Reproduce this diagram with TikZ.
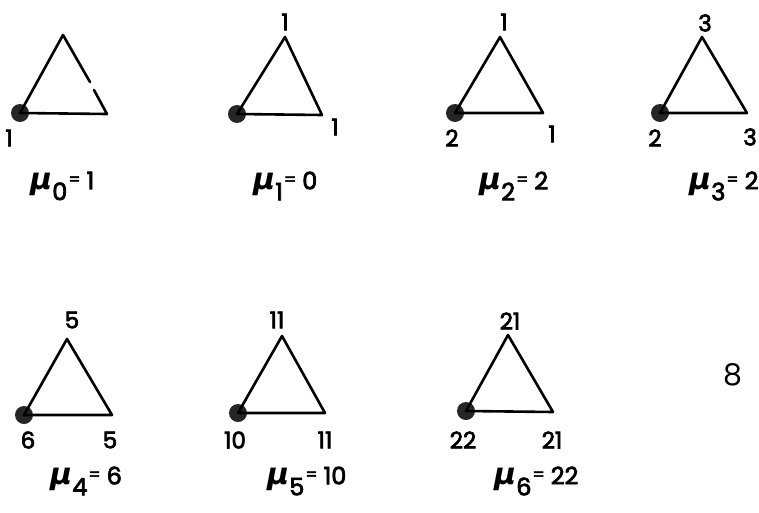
\documentclass[tikz,border=0pt]{standalone}
\usepackage{fontspec}
\setmainfont{Poppins}
\newfontfamily\numfont{Poppins}[FakeBold=3]
\newfontfamily\mufont{DejaVu Sans}
\begin{document}
\begin{tikzpicture}[x=1pt,y=-1pt,
  edge/.style={line width=2.6pt,line cap=round,line join=round},
  vdot/.style={circle,fill=black!85,inner sep=0pt,minimum size=18pt},
  num/.style={font=\numfont\fontsize{23}{23}\selectfont,inner sep=0pt},
  mulab/.style={font=\numfont\fontsize{24}{24}\selectfont,inner sep=0pt,anchor=west}]
\newcommand{\Mu}[2]{{\mufont\bfseries\itshape\fontsize{30}{30}\selectfont μ}\raisebox{-11pt}{#1}\hspace{1pt}\raisebox{4pt}{\fontsize{17}{17}\selectfont=}\hspace{6pt}#2}
\useasboundingbox (0,0) rectangle (759,513);
\fill[white] (0,0) rectangle (759,513);

% ---- triangle 0
\coordinate (a0) at (63,35);
\coordinate (c0) at (107,114);
\coordinate (g0a) at (90,82);
\coordinate (g0b) at (94,90);
\node[vdot] (b0) at (20,113) {};
\draw[edge] (b0.center) -- (a0) -- (g0a);
\draw[edge] (g0b) -- (c0) -- (b0.center);
\node[num] (l0b) at (9,138) {1};
\node[mulab] (m0) at (30,186) {\Mu{0}{1}};

% ---- triangle 1
\coordinate (a1) at (285,37);
\coordinate (c1) at (322,115);
\node[vdot] (b1) at (237,114) {};
\draw[edge] (b1.center) -- (a1) -- (c1) -- (b1.center);
\node[num] (l1a) at (285,22) {1};
\node[num] (l1c) at (335,127) {1};
\node[mulab] (m1) at (253,186) {\Mu{1}{0}};

% ---- triangle 2
\coordinate (a2) at (500,37);
\coordinate (c2) at (543,113);
\node[vdot] (b2) at (455,113) {};
\draw[edge] (b2.center) -- (a2) -- (c2) -- (b2.center);
\node[num] (l2a) at (504,22) {1};
\node[num] (l2b) at (452,138) {2};
\node[num] (l2c) at (552,134) {1};
\node[mulab] (m2) at (479,186) {\Mu{2}{2}};

% ---- triangle 3
\coordinate (a3) at (702,37);
\coordinate (c3) at (747,113);
\node[vdot] (b3) at (660,113) {};
\draw[edge] (b3.center) -- (a3) -- (c3) -- (b3.center);
\node[num] (l3a) at (705,23) {3};
\node[num] (l3b) at (655,138) {2};
\node[num] (l3c) at (750,137) {3};
\node[mulab] (m3) at (689,186) {\Mu{3}{2}};

% ---- triangle 4
\coordinate (a4) at (67,339);
\coordinate (c4) at (112,415);
\node[vdot] (b4) at (24,415) {};
\draw[edge] (b4.center) -- (a4) -- (c4) -- (b4.center);
\node[num] (l4a) at (72,320) {5};
\node[num] (l4b) at (28,440) {6};
\node[num] (l4c) at (110,440) {5};
\node[mulab] (m4) at (50,481) {\Mu{4}{6}};

% ---- triangle 5
\coordinate (a5) at (282,336);
\coordinate (c5) at (325,413);
\node[vdot] (b5) at (238,413) {};
\draw[edge] (b5.center) -- (a5) -- (c5) -- (b5.center);
\node[num] (l5a) at (277,320) {11};
\node[num] (l5b) at (235,440) {10};
\node[num] (l5c) at (325,440) {11};
\node[mulab] (m5) at (267,481) {\Mu{5}{10}};

% ---- triangle 6
\coordinate (a6) at (508,335);
\coordinate (c6) at (553,412);
\node[vdot] (b6) at (466,411) {};
\draw[edge] (b6.center) -- (a6) -- (c6) -- (b6.center);
\node[num] (l6a) at (510,321) {21};
\node[num] (l6b) at (463,440) {22};
\node[num] (l6c) at (552,440) {21};
\node[mulab] (m6) at (494,481) {\Mu{6}{22}};

\node[font=\fontsize{30}{30}\selectfont,inner sep=0pt] (pg) at (733,375) {8};
\end{tikzpicture}
\end{document}
